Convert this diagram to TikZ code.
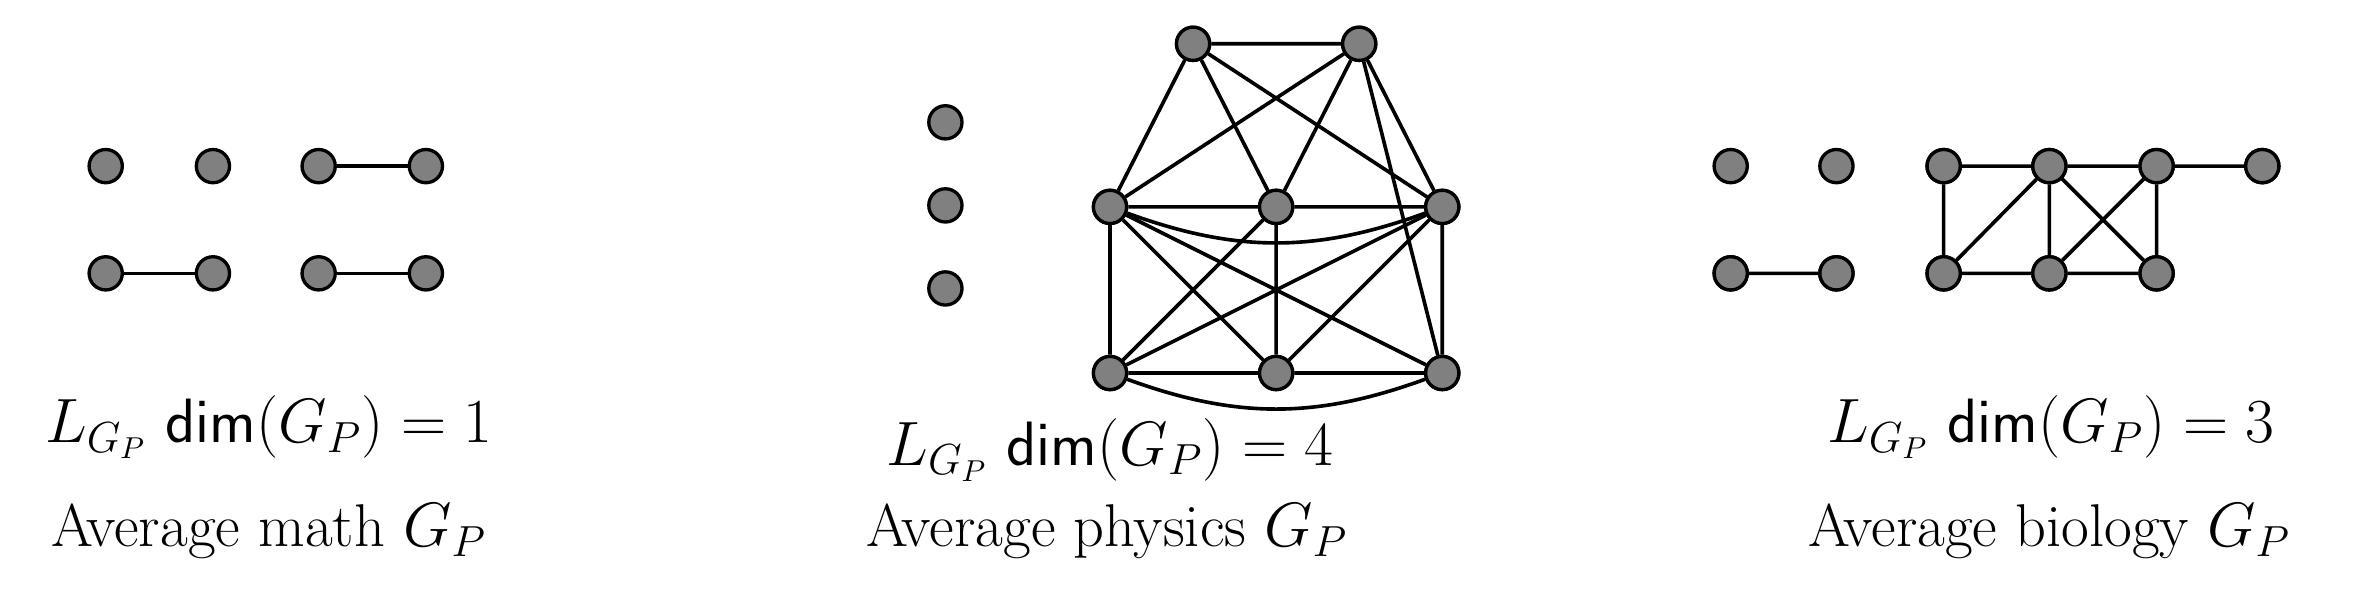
\documentclass[tikz,border=0pt]{standalone}
\usepackage{amsmath}
\begin{document}
\begin{tikzpicture}[x=0.5pt,y=-0.5pt,
  v/.style={circle,draw=black,fill=black!50,line width=1.1pt,minimum size=11pt,inner sep=0pt},
  e/.style={line width=1.2pt},
  lab/.style={font=\fontsize{20}{24}\selectfont,inner sep=0pt}]
\useasboundingbox (0,0) rectangle (1568,395);
% math
\foreach \n/\x/\y in {a1/70/110,a2/141/110,a3/211/110,a4/282/110,a5/70/181,a6/141/181,a7/211/181,a8/282/181}
  \node[v] (\n) at (\x,\y) {};
\draw[e] (a3)--(a4) (a5)--(a6) (a7)--(a8);
% physics
\foreach \n/\x/\y in {i1/626/81,i2/626/136,i3/626/191,t1/790/29,t2/900/29,m1/735/137,m2/845/137,m3/955/137,b1/735/247,b2/845/247,b3/955/247}
  \node[v] (\n) at (\x,\y) {};
\draw[e] (t1)--(t2) (t1)--(m1) (t1)--(m2) (t1)--(m3) (t2)--(m1) (t2)--(m2) (t2)--(m3) (t2)--(b3)
  (m1)--(m2) (m2)--(m3) (m1)--(b1) (m1)--(b2) (m1)--(b3) (m2)--(b1) (m2)--(b2) (m3)--(b1) (m3)--(b2) (m3)--(b3)
  (b1)--(b2) (b2)--(b3);
\draw[e] (m1) to[bend right=20] (m3);
\draw[e] (b1) to[bend right=20] (b3);
\foreach \n in {t1,t2,m1,m2,m3,b1,b2,b3} \node[v] at (\n) {};
% biology
\foreach \n/\x/\y in {c1/1146/110,c2/1216/110,c3/1287/110,c4/1357/110,c5/1428/110,c6/1498/110,d1/1146/181,d2/1216/181,d3/1287/181,d4/1357/181,d5/1428/181}
  \node[v] (\n) at (\x,\y) {};
\draw[e] (d1)--(d2) (c3)--(c4) (c4)--(c5) (c5)--(c6) (d3)--(d4) (d4)--(d5)
  (c3)--(d3) (c4)--(d4) (c5)--(d5) (d3)--(c4) (c4)--(d5) (d4)--(c5);
\foreach \n in {c3,c4,c5,c6,d1,d2,d3,d4,d5} \node[v] at (\n) {};
% labels
\node[lab] (f1) at (178,283) {$L_{G_P}\ \mathsf{dim}(G_P)=1$};
\node[lab] (g1) at (178,352) {Average math $G_P$};
\node[lab] (f2) at (735,298) {$L_{G_P}\ \mathsf{dim}(G_P)=4$};
\node[lab] (g2) at (733,352) {Average physics $G_P$};
\node[lab] (f3) at (1358,283) {$L_{G_P}\ \mathsf{dim}(G_P)=3$};
\node[lab] (g3) at (1357,352) {Average biology $G_P$};
\end{tikzpicture}
\end{document}
